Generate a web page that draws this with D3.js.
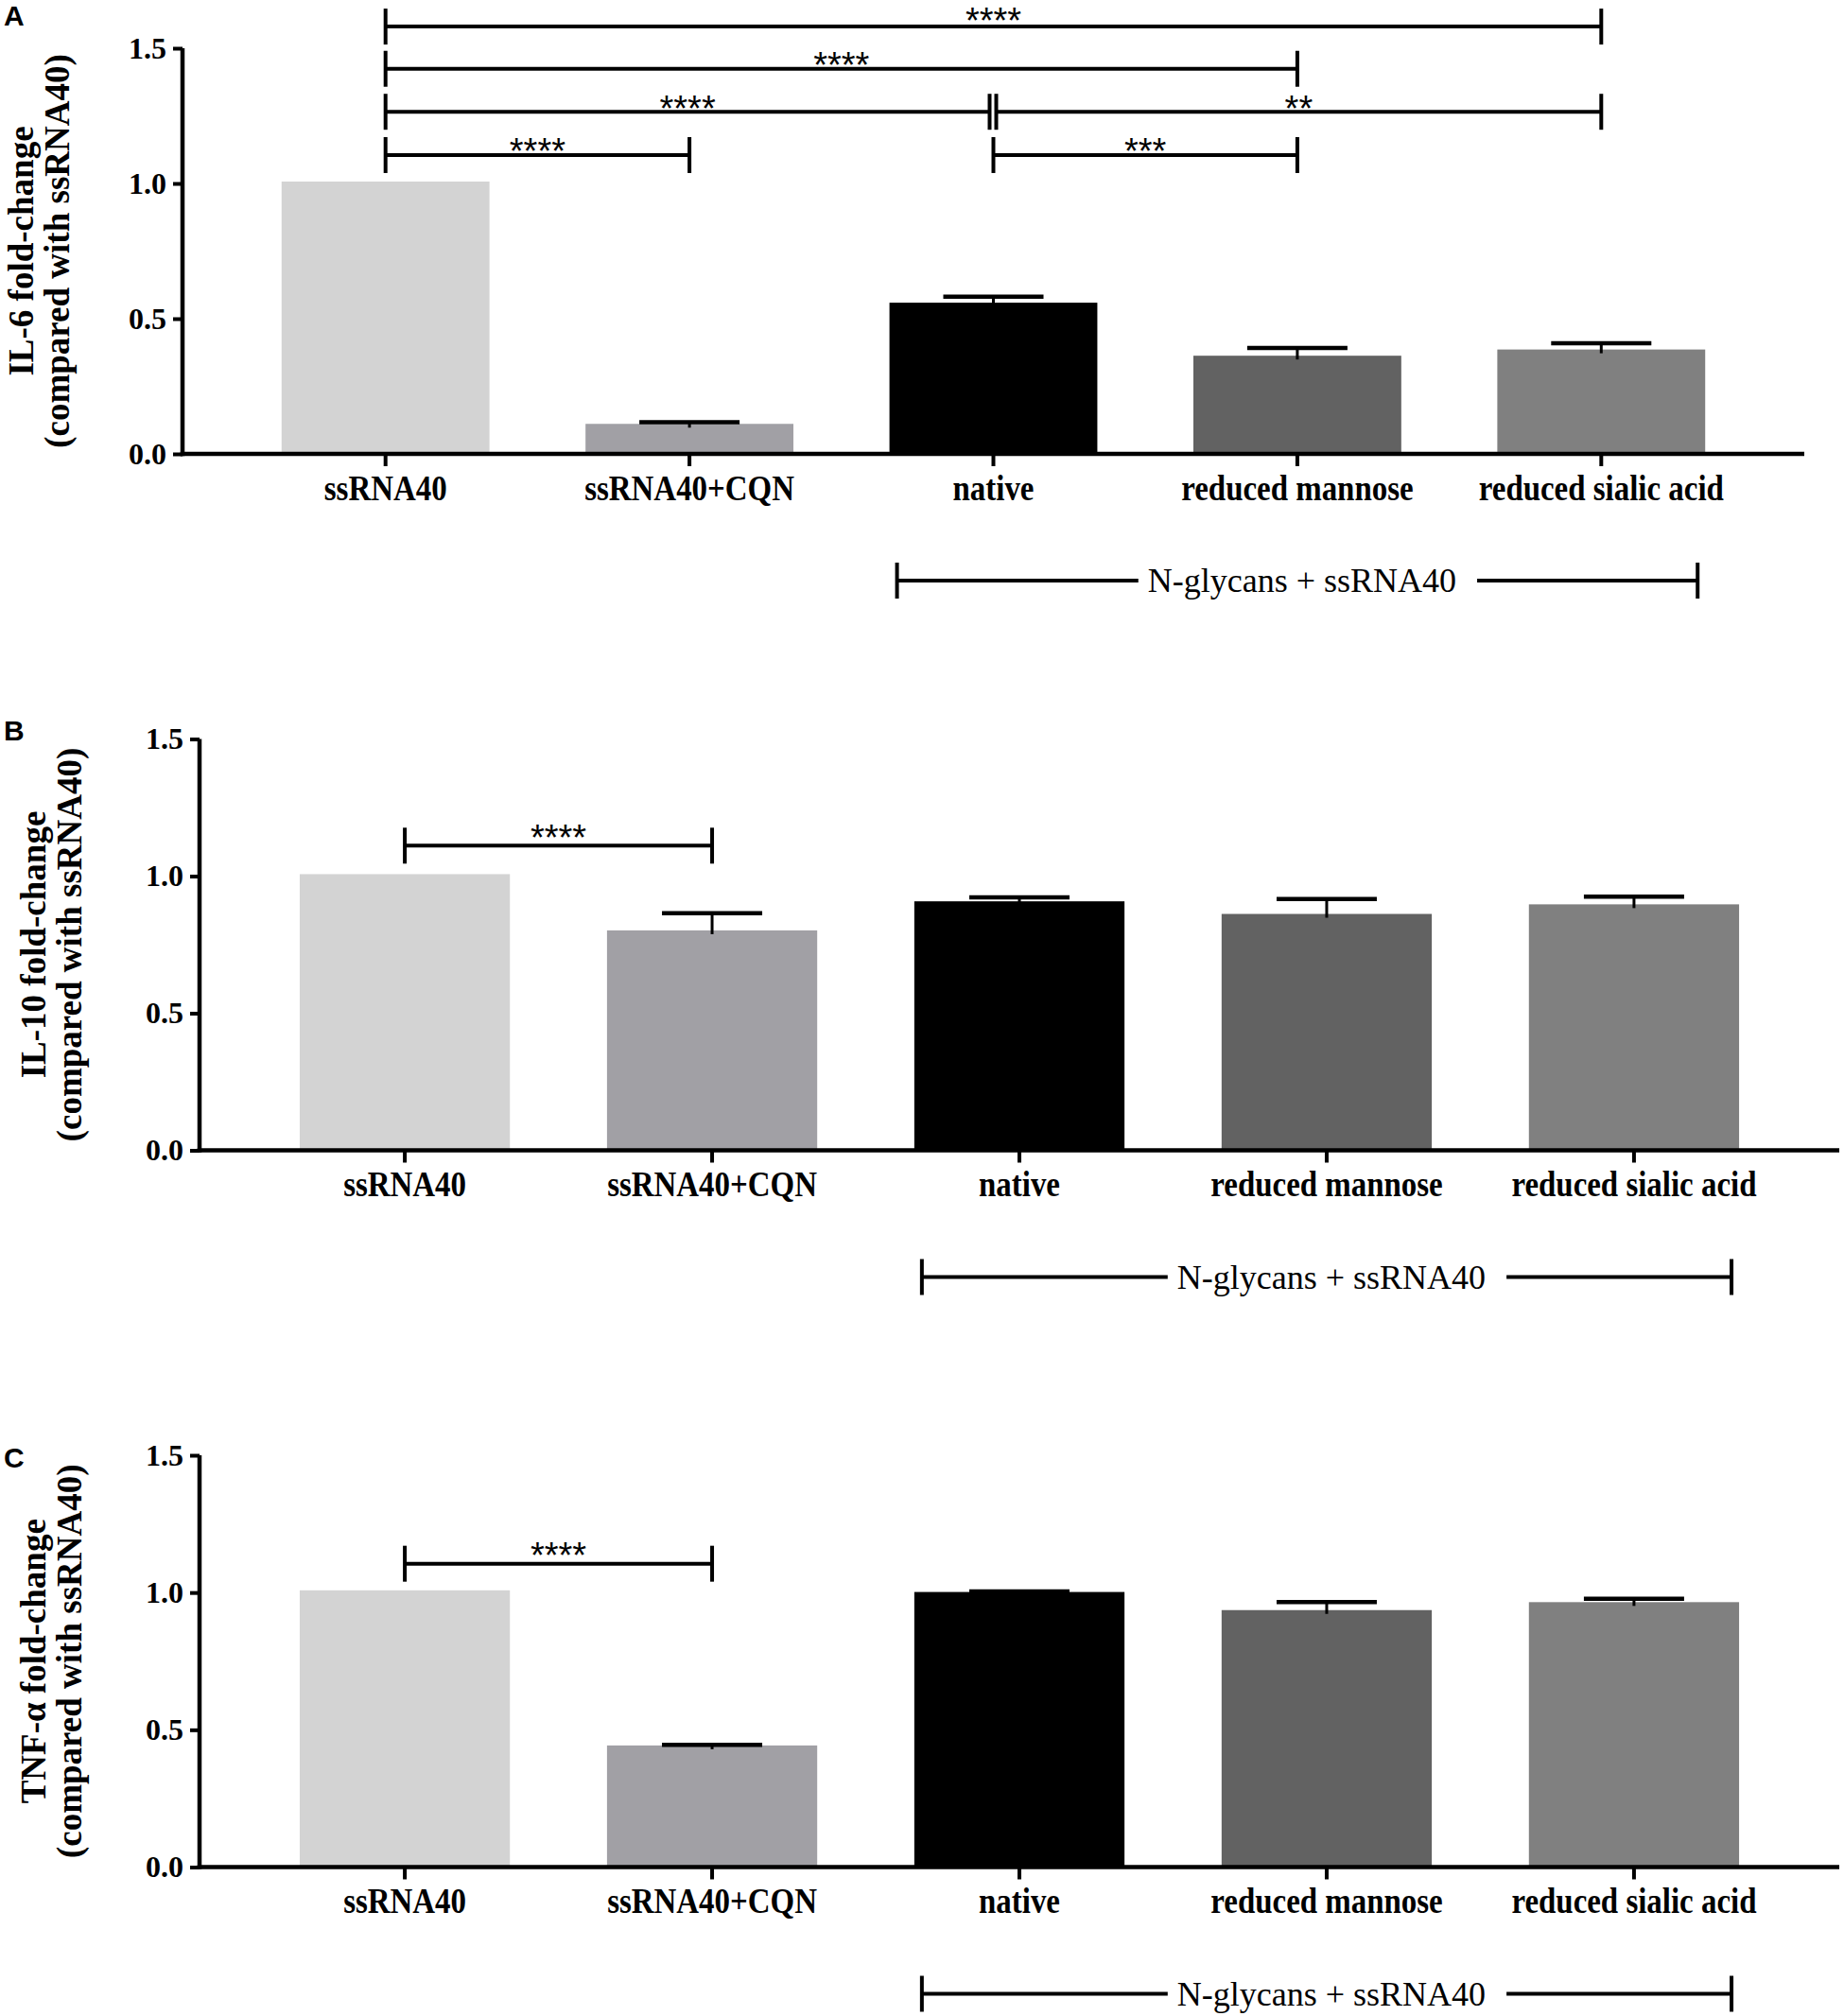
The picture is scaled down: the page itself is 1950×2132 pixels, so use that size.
<!DOCTYPE html>
<html>
<head>
<meta charset="utf-8">
<script src="https://cdn.jsdelivr.net/npm/d3@7"></script>
<style>
body { margin: 0; background: #fff; }
svg { display: block; background: #fff; }
</style>
</head>
<body>
<svg width="1950" height="2132"></svg>
<script>
var categories = ["ssRNA40", "ssRNA40+CQN", "native", "reduced mannose", "reduced sialic acid"];
var yTicks = [0, 0.5, 1.0, 1.5];

var il6Means = [1.007, 0.111, 0.559, 0.363, 0.386];
var il6Errors = [0, 0.006, 0.022, 0.029, 0.023];

var il10Means = [1.007, 0.802, 0.908, 0.862, 0.897];
var il10Errors = [0, 0.063, 0.014, 0.054, 0.028];

var tnfMeans = [1.008, 0.443, 1.002, 0.936, 0.965];
var tnfErrors = [0, 0.002, 0.002, 0.029, 0.012];

// significance brackets (level = height in data units)
var il6Brackets = [
  {from: "ssRNA40", to: "ssRNA40+CQN", level: 1.105, label: "****"},
  {from: "native", to: "reduced mannose", level: 1.105, label: "***"},
  {from: "ssRNA40", to: "native", level: 1.265, label: "****"},
  {from: "native", to: "reduced sialic acid", level: 1.265, label: "**"},
  {from: "ssRNA40", to: "reduced mannose", level: 1.424, label: "****"},
  {from: "ssRNA40", to: "reduced sialic acid", level: 1.58, label: "****"}
];
var il10Brackets = [
  {from: "ssRNA40", to: "ssRNA40+CQN", level: 1.111, label: "****"}
];
var tnfBrackets = [
  {from: "ssRNA40", to: "ssRNA40+CQN", level: 1.105, label: "****"}
];

var groupLabel = "N-glycans + ssRNA40";
var barColors = ["#d3d3d3", "#a1a0a5", "#000000", "#626262", "#808080"];

var panels = [
  {letter: "A", title: ["IL-6 fold-change", "(compared with ssRNA40)"], means: il6Means, errors: il6Errors,
   brackets: il6Brackets, left: 193, right: 1908, top: 51, bottom: 480, letterY: 27, starGap: 7},
  {letter: "B", title: ["IL-10 fold-change", "(compared with ssRNA40)"], means: il10Means, errors: il10Errors,
   brackets: il10Brackets, left: 211, right: 1945, top: 781.5, bottom: 1216.5, letterY: 783, starGap: 12},
  {letter: "C", title: ["TNF-\u03b1 fold-change", "(compared with ssRNA40)"], means: tnfMeans, errors: tnfErrors,
   brackets: tnfBrackets, left: 211, right: 1945, top: 1539, bottom: 1974.5, letterY: 1552, starGap: 12}
];

var serif = "'Liberation Serif', 'Times New Roman', serif";
var sans = "'Liberation Sans', Arial, sans-serif";
var svg = d3.select("svg");
var color = d3.scaleOrdinal().domain(categories).range(barColors);

panels.forEach(function (p) {
  var x = d3.scaleBand().domain(categories).range([p.left, p.right])
      .paddingInner(0.316).paddingOuter(0.326);
  var y = d3.scaleLinear().domain([0, 1.5]).range([p.bottom, p.top]);
  var bw = x.bandwidth();
  var cx = function (c) { return x(c) + bw / 2; };
  var g = svg.append("g");

  var rows = categories.map(function (c, i) {
    return {cat: c, mean: p.means[i], err: p.errors[i]};
  });

  g.selectAll(".bar")
    .data(rows)
    .enter().append("rect")
      .attr("class", "bar")
      .attr("x", function (d) { return x(d.cat); })
      .attr("y", function (d) { return y(d.mean); })
      .attr("width", bw)
      .attr("height", function (d) { return y(0) - y(d.mean); })
      .attr("fill", function (d) { return color(d.cat); });

  var eb = g.selectAll(".err")
    .data(rows.filter(function (d) { return d.err > 0; }))
    .enter().append("g").attr("class", "err");
  eb.append("line")
    .attr("x1", function (d) { return cx(d.cat); })
    .attr("x2", function (d) { return cx(d.cat); })
    .attr("y1", function (d) { return y(d.mean) + 4; })
    .attr("y2", function (d) { return y(d.mean + d.err); })
    .attr("stroke", "#000").attr("stroke-width", 3);
  eb.append("line")
    .attr("x1", function (d) { return cx(d.cat) - 53; })
    .attr("x2", function (d) { return cx(d.cat) + 53; })
    .attr("y1", function (d) { return y(d.mean + d.err); })
    .attr("y2", function (d) { return y(d.mean + d.err); })
    .attr("stroke", "#000").attr("stroke-width", 4.5);

  // axes
  var ya = g.append("g")
      .attr("transform", "translate(" + p.left + ",0)")
      .call(d3.axisLeft(y).tickValues(yTicks).tickFormat(d3.format(".1f"))
        .tickSize(10).tickSizeOuter(0).tickPadding(7));
  ya.select(".domain").remove();
  ya.selectAll(".tick line").attr("stroke-width", 4);
  ya.selectAll(".tick text")
    .attr("font-family", serif).attr("font-weight", "bold").attr("font-size", 32).attr("fill", "#000");

  var xa = g.append("g")
      .attr("transform", "translate(0," + p.bottom + ")")
      .call(d3.axisBottom(x).tickSize(13).tickSizeOuter(0));
  xa.select(".domain").remove();
  xa.selectAll(".tick line").attr("stroke-width", 4);
  xa.selectAll(".tick text")
    .attr("font-family", serif).attr("font-weight", "bold").attr("font-size", 37).attr("fill", "#000")
    .attr("y", 49).attr("dy", 0)
    .attr("transform", "scale(0.89,1)");

  g.append("line")
    .attr("x1", p.left).attr("x2", p.left)
    .attr("y1", p.bottom + 2.25).attr("y2", p.top)
    .attr("stroke", "#000").attr("stroke-width", 4.5);
  g.append("line")
    .attr("x1", p.left - 2.25).attr("x2", p.right)
    .attr("y1", p.bottom).attr("y2", p.bottom)
    .attr("stroke", "#000").attr("stroke-width", 4.5);

  // y title
  var line1 = Math.max(p.left - 163, 35);
  var line2 = Math.max(p.left - 125, line1 + 38);
  var tg = g.append("g")
      .attr("transform", "translate(0," + (p.top + p.bottom) / 2 + ") rotate(-90)");
  tg.selectAll("text")
    .data(p.title)
    .enter().append("text")
      .attr("x", 0)
      .attr("y", function (d, i) { return i === 0 ? line1 : line2; })
      .attr("text-anchor", "middle")
      .attr("font-family", serif).attr("font-weight", "bold").attr("font-size", 37)
      .text(function (d) { return d; });

  // panel letter
  g.append("text")
    .attr("x", 4).attr("y", p.letterY)
    .attr("font-family", sans).attr("font-weight", "bold").attr("font-size", 30)
    .text(p.letter);

  // significance brackets
  p.brackets.forEach(function (b) {
    var x1 = cx(b.from), x2 = cx(b.to);
    if (p.brackets.some(function (o) { return o !== b && o.level === b.level && o.from === b.to; })) x2 -= 4;
    if (p.brackets.some(function (o) { return o !== b && o.level === b.level && o.to === b.from; })) x1 += 3;
    var yy = y(b.level);
    var bg = g.append("g");
    bg.append("line").attr("x1", x1).attr("x2", x2).attr("y1", yy).attr("y2", yy)
      .attr("stroke", "#000").attr("stroke-width", 4);
    [x1, x2].forEach(function (xx) {
      bg.append("line").attr("x1", xx).attr("x2", xx).attr("y1", yy - 19).attr("y2", yy + 19)
        .attr("stroke", "#000").attr("stroke-width", 4);
    });
    var gap = b.level > 1.5 ? 9 : p.starGap;
    bg.append("text")
      .attr("x", (x1 + x2) / 2)
      .attr("y", yy - gap + 0.43 * 38)
      .attr("text-anchor", "middle")
      .attr("font-family", sans).attr("font-size", 38)
      .text(b.label);
  });

  // N-glycans group bracket
  var gx1 = x("native") + 8, gx2 = x("reduced sialic acid") + bw - 8;
  var gy = p.bottom + 134;
  var tx = (gx1 + gx2) / 2 + 5;
  var gt = g.append("text")
    .attr("x", tx).attr("y", gy + 12)
    .attr("text-anchor", "middle")
    .attr("font-family", serif).attr("font-size", 36)
    .text(groupLabel);
  var tw = gt.node().getComputedTextLength();
  g.append("line").attr("x1", gx1).attr("x2", tx - tw / 2 - 10).attr("y1", gy).attr("y2", gy)
    .attr("stroke", "#000").attr("stroke-width", 4);
  g.append("line").attr("x1", tx + tw / 2 + 22).attr("x2", gx2).attr("y1", gy).attr("y2", gy)
    .attr("stroke", "#000").attr("stroke-width", 4);
  [gx1, gx2].forEach(function (xx) {
    g.append("line").attr("x1", xx).attr("x2", xx).attr("y1", gy - 19).attr("y2", gy + 19)
      .attr("stroke", "#000").attr("stroke-width", 4);
  });
});
</script>
</body>
</html>
